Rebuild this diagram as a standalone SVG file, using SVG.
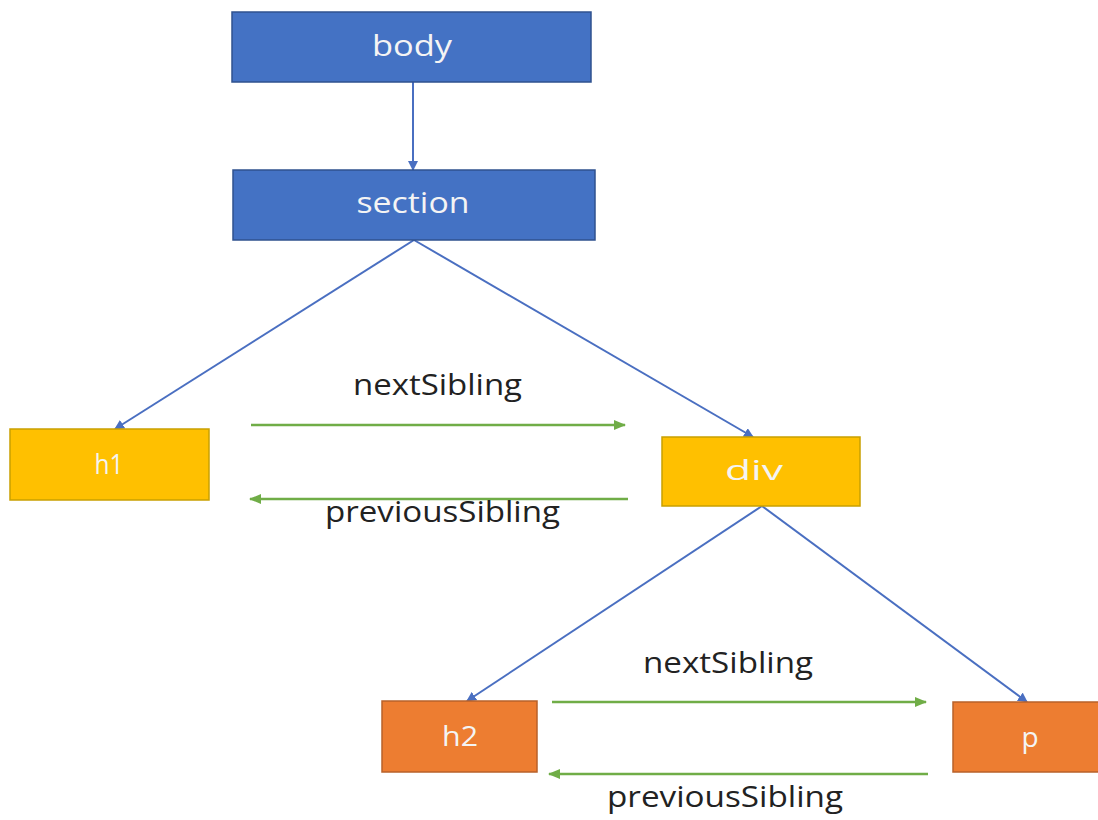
<svg xmlns="http://www.w3.org/2000/svg" width="1098" height="820" viewBox="0 0 1098 820">
<style>
.bl{fill:#4472C4;stroke:#2F528F;stroke-width:1.5}
.gd{fill:#FFC000;stroke:#C9A000;stroke-width:1.5}
.or{fill:#ED7D31;stroke:#B8612A;stroke-width:1.5}
.nt{font-family:"Open Sans","Liberation Sans",sans-serif;fill:#F4F4F4;text-anchor:middle}
.lb{font-family:"Open Sans","Liberation Sans",sans-serif;fill:#222;font-size:30px}
.tree{stroke:#4A6FC1;stroke-width:2;fill:none;marker-end:url(#ab)}
.sib{stroke:#70AD47;stroke-width:2.5;fill:none;marker-end:url(#ag)}
</style>
<defs>
<marker id="ab" markerWidth="10" markerHeight="10" refX="9" refY="5" orient="auto" markerUnits="userSpaceOnUse"><path d="M0,0 L10,5 L0,10 Z" fill="#4A6FC1"/></marker>
<marker id="ag" markerWidth="12" markerHeight="10" refX="11" refY="5" orient="auto" markerUnits="userSpaceOnUse"><path d="M0,0 L12,5 L0,10 Z" fill="#70AD47"/></marker>
</defs>
<rect width="1098" height="820" fill="#FFFFFF"/>
<g id="connectors">
<line class="tree" x1="413" y1="82" x2="413" y2="170"/>
<line class="tree" x1="414" y1="240" x2="115" y2="429"/>
<line class="tree" x1="414" y1="240" x2="753" y2="437"/>
<line class="tree" x1="762" y1="506" x2="467" y2="701"/>
<line class="tree" x1="762" y1="506" x2="1027" y2="702"/>
<line class="sib" x1="251" y1="425" x2="625" y2="425"/>
<line class="sib" x1="628" y1="499" x2="250" y2="499"/>
<line class="sib" x1="552" y1="702" x2="926" y2="702"/>
<line class="sib" x1="928" y1="774" x2="549" y2="774"/>
</g>
<g id="labels">
<text class="lb" x="353" y="395" textLength="169" lengthAdjust="spacingAndGlyphs">nextSibling</text>
<text class="lb" x="325" y="522" textLength="235" lengthAdjust="spacingAndGlyphs">previousSibling</text>
<text class="lb" x="643" y="673" textLength="170" lengthAdjust="spacingAndGlyphs">nextSibling</text>
<text class="lb" x="607" y="807" textLength="236" lengthAdjust="spacingAndGlyphs">previousSibling</text>
</g>
<g id="body"><rect class="bl" x="232" y="12" width="359" height="70"/><text class="nt" x="412" y="56" font-size="30" textLength="80" lengthAdjust="spacingAndGlyphs">body</text></g>
<g id="section"><rect class="bl" x="233" y="170" width="362" height="70"/><text class="nt" x="413" y="213" font-size="30" textLength="113" lengthAdjust="spacingAndGlyphs">section</text></g>
<g id="h1"><rect class="gd" x="10" y="429" width="199" height="71"/><text class="nt" x="109" y="474" font-size="28" textLength="29" lengthAdjust="spacingAndGlyphs">h1</text></g>
<g id="div"><rect class="gd" x="662" y="437" width="198" height="69"/><text class="nt" x="754" y="480" font-size="28" textLength="58" lengthAdjust="spacingAndGlyphs">div</text></g>
<g id="h2"><rect class="or" x="382" y="701" width="155" height="71"/><text class="nt" x="460" y="746" font-size="28" textLength="36" lengthAdjust="spacingAndGlyphs">h2</text></g>
<g id="p"><rect class="or" x="953" y="702" width="146" height="70"/><text class="nt" x="1030" y="747" font-size="28">p</text></g>
</svg>
